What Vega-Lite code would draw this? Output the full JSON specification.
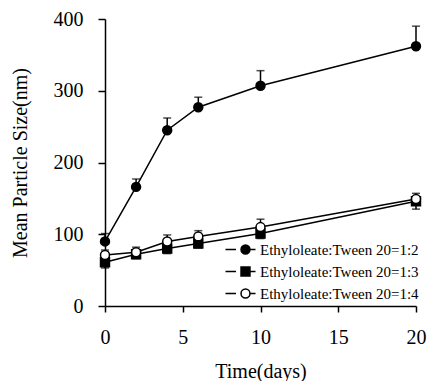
{
  "$schema": "https://vega.github.io/schema/vega-lite/v6.json",
  "autosize": "none",
  "width": 311,
  "height": 287,
  "padding": {"left": 105, "top": 19, "right": 13, "bottom": 75},
  "background": "white",
  "config": {
    "view": {"stroke": null},
    "font": "Liberation Serif",
    "axis": {
      "grid": false,
      "domainColor": "black",
      "domainWidth": 1.5,
      "tickColor": "black",
      "tickWidth": 1.5,
      "labelColor": "black",
      "titleColor": "black",
      "labelFont": "Liberation Serif",
      "titleFont": "Liberation Serif",
      "labelFontSize": 20,
      "titleFontSize": 20,
      "titleFontWeight": "normal"
    },
    "legend": {
      "labelFont": "Liberation Serif"
    }
  },
  "data": {
    "values": [
      {"time": 0, "series": "Ethyloleate:Tween 20=1:2", "mean": 90, "errEnd": 101},
      {"time": 2, "series": "Ethyloleate:Tween 20=1:2", "mean": 166, "errEnd": 177},
      {"time": 4, "series": "Ethyloleate:Tween 20=1:2", "mean": 245, "errEnd": 262},
      {"time": 6, "series": "Ethyloleate:Tween 20=1:2", "mean": 277, "errEnd": 291},
      {"time": 10, "series": "Ethyloleate:Tween 20=1:2", "mean": 307, "errEnd": 328},
      {"time": 20, "series": "Ethyloleate:Tween 20=1:2", "mean": 362, "errEnd": 390},
      {"time": 0, "series": "Ethyloleate:Tween 20=1:3", "mean": 61, "errEnd": 53},
      {"time": 2, "series": "Ethyloleate:Tween 20=1:3", "mean": 72, "errEnd": 66},
      {"time": 4, "series": "Ethyloleate:Tween 20=1:3", "mean": 80, "errEnd": 73},
      {"time": 6, "series": "Ethyloleate:Tween 20=1:3", "mean": 87, "errEnd": 81},
      {"time": 10, "series": "Ethyloleate:Tween 20=1:3", "mean": 101, "errEnd": 94},
      {"time": 20, "series": "Ethyloleate:Tween 20=1:3", "mean": 146, "errEnd": 135},
      {"time": 0, "series": "Ethyloleate:Tween 20=1:4", "mean": 71, "errEnd": 78},
      {"time": 2, "series": "Ethyloleate:Tween 20=1:4", "mean": 75, "errEnd": 82},
      {"time": 4, "series": "Ethyloleate:Tween 20=1:4", "mean": 90, "errEnd": 99},
      {"time": 6, "series": "Ethyloleate:Tween 20=1:4", "mean": 97, "errEnd": 105},
      {"time": 10, "series": "Ethyloleate:Tween 20=1:4", "mean": 110, "errEnd": 121},
      {"time": 20, "series": "Ethyloleate:Tween 20=1:4", "mean": 149, "errEnd": 157}
    ]
  },
  "encoding": {
    "x": {
      "field": "time", "type": "quantitative",
      "scale": {"domain": [0, 20], "nice": false, "zero": false},
      "axis": {
        "values": [0, 5, 10, 15, 20], "title": "Time(days)", "tickSize": 6, "labelPadding": 15, "titlePadding": 14, "labelFlush": false
      }
    },
    "y": {
      "field": "mean", "type": "quantitative",
      "scale": {"domain": [0, 400], "nice": false},
      "axis": {
        "values": [0, 100, 200, 300, 400], "title": "Mean Particle Size(nm)", "tickSize": 7, "labelPadding": 15, "titlePadding": 23
      }
    }
  },
  "layer": [
    {
      "mark": {"type": "line", "strokeWidth": 1.5},
      "encoding": {
        "stroke": {
          "field": "series", "type": "nominal",
          "scale": {"domain": ["Ethyloleate:Tween 20=1:2", "Ethyloleate:Tween 20=1:3", "Ethyloleate:Tween 20=1:4"], "range": ["black", "black", "black"]},
          "legend": {
            "title": null,
            "orient": "none",
            "legendX": 119.5,
            "legendY": 222,
            "padding": 0,
            "symbolType": "M-1,0H-0.3M0.3,0H1",
            "symbolSize": 900,
            "symbolStrokeWidth": 1.5,
            "symbolOffset": 0,
            "labelExpr": "''",
            "labelFontSize": 15,
            "clipHeight": 17,
            "rowPadding": 5
          }
        }
      }
    },
    {
      "mark": {"type": "rule", "color": "black", "strokeWidth": 1.5},
      "encoding": {"y2": {"field": "errEnd"}, "detail": {"field": "series"}}
    },
    {
      "mark": {"type": "tick", "orient": "horizontal", "color": "black", "size": 8, "thickness": 1.5},
      "encoding": {"y": {"field": "errEnd", "type": "quantitative"}}
    },
    {
      "mark": {"type": "point", "filled": true, "stroke": "black", "strokeWidth": 1.5, "opacity": 1, "size": 80},
      "encoding": {
        "shape": {
          "field": "series", "type": "nominal",
          "scale": {"range": ["circle", "square", "circle"]}
        },
        "fill": {
          "field": "series", "type": "nominal",
          "scale": {"range": ["black", "black", "white"]},
          "legend": {
            "title": null,
            "orient": "none",
            "legendX": 133,
            "legendY": 222,
            "padding": 0,
            "symbolSize": 80,
            "symbolStrokeColor": "black",
            "symbolStrokeWidth": 1.5,
            "symbolOffset": 0,
            "labelOffset": 7,
            "labelFontSize": 15,
            "labelColor": "black",
            "labelLimit": 300,
            "clipHeight": 17,
            "rowPadding": 5
          }
        }
      }
    }
  ]
}
